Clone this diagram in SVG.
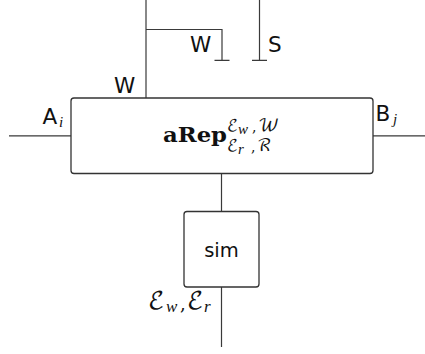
<svg xmlns="http://www.w3.org/2000/svg" width="425" height="354" viewBox="0 0 425 354">
<style>
.l{fill:none;stroke:#3a3a3a;stroke-width:1.2}
.b{fill:#fff;stroke:#333;stroke-width:1.3}
.s{font-family:"DejaVu Sans",sans-serif;font-size:21.500px;fill:#111}
.m{font-family:"DejaVu Math TeX Gyre","DejaVu Serif",serif;fill:#111}
.i{font-family:"Liberation Serif",serif;font-style:italic;fill:#111}
.r{font-family:"DejaVu Serif",serif;font-weight:bold;font-size:20px;fill:#111}
</style>
<rect width="425" height="354" fill="#fff"/>
<g id="connectors">
<path class="l" d="M146 0V98M146 29.500H222V60M214.500 60.300H229.500M259.500 0V60M252 60.300H267M9 135.800H71M373 135.800H425M221.500 174V211M221.500 287V347"/>
</g>
<g id="aRep">
<rect class="b" x="71" y="98" width="302" height="75.500" rx="3"/>
<text class="r" x="163" y="141.500" textLength="64" lengthAdjust="spacingAndGlyphs">aRep</text>
<text class="m" font-size="16" x="227" y="131">ℰ</text><text class="i" font-size="15" x="238" y="134">w</text><text class="m" font-size="14" x="252" y="132">,</text><text class="m" font-size="17" x="258" y="131">𝒲</text>
<text class="m" font-size="16" x="227" y="151">ℰ</text><text class="i" font-size="15" x="238" y="153.500">r</text><text class="m" font-size="14" x="251" y="152">,</text><text class="m" font-size="17" x="257" y="151">ℛ</text>
</g>
<g id="sim">
<rect class="b" x="184" y="211.500" width="75" height="75.500" rx="3"/>
<text class="s" style="font-size:19.500px" x="221.500" y="257" text-anchor="middle">sim</text>
</g>
<g id="labels">
<text class="s" x="190" y="52">W</text>
<text class="s" x="268" y="52">S</text>
<text class="s" x="114" y="93">W</text>
<text class="s" x="42.500" y="124">A</text><text class="i" font-size="15" x="59" y="126.500">i</text>
<text class="s" x="375.500" y="121">B</text><text class="i" font-size="15" x="393" y="124">j</text>
<text class="m" font-size="24" x="148" y="309">ℰ</text><text class="i" font-size="17" x="166" y="312">w</text><text class="m" font-size="18" x="180" y="310">,</text><text class="m" font-size="24" x="187" y="309">ℰ</text><text class="i" font-size="17" x="204" y="312">r</text>
</g>
</svg>
